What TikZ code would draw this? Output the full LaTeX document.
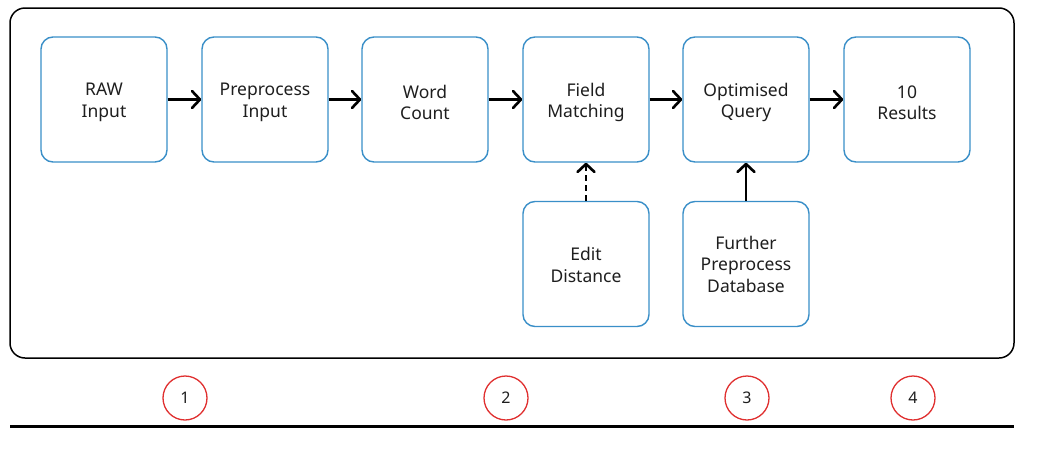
\documentclass[tikz,border=0pt]{standalone}
\usepackage{fontspec}
\setmainfont{Noto Sans}
\usetikzlibrary{arrows.meta}
\definecolor{boxblue}{HTML}{3A8FC8}
\definecolor{numred}{HTML}{E03030}
\definecolor{txt}{HTML}{1E1E1E}
\newcommand{\boxtxt}[2][6pt]{\parbox[c][100pt][c]{124pt}{\centering\vspace*{#1}#2}}
\begin{document}
\begin{tikzpicture}[x=1pt,y=-1pt,
  stepbox/.style={draw=boxblue,line width=1.4pt,rounded corners=12pt,minimum width=126pt,minimum height=125pt,align=center,text=txt,font=\fontsize{17.5}{21.5}\selectfont,inner sep=0pt},
  numc/.style={draw=numred,line width=1.3pt,circle,minimum size=44pt,inner sep=0pt,text=txt,font=\fontsize{16}{18}\selectfont},
  flow/.style={line width=2.4pt,black,-{Straight Barb[length=8pt,width=17pt,line width=0pt 1.1,round]}}]
\useasboundingbox (0,0) rectangle (1053,453);
\fill[white] (0,0) rectangle (1053,453);
\draw[line width=1.5pt,rounded corners=15pt] (10,8) rectangle (1014,358);
\node[stepbox] (raw) at (104,99.5) {\boxtxt{RAW\\Input}};
\node[stepbox] (pre) at (265,99.5) {\boxtxt{Preprocess\\Input}};
\node[stepbox] (wc) at (425,99.5) {\boxtxt{Word\\Count}};
\node[stepbox] (fm) at (586,99.5) {\boxtxt{Field\\Matching}};
\node[stepbox] (oq) at (746,99.5) {\boxtxt{Optimised\\Query}};
\node[stepbox] (res) at (907,99.5) {\boxtxt{10\\Results}};
\node[stepbox] (ed) at (586,264) {\boxtxt[2pt]{Edit\\Distance}};
\node[stepbox] (fp) at (746,264) {\boxtxt[0pt]{Further\\Preprocess\\Database}};
\draw[flow] (raw) -- (pre);
\draw[flow] (pre) -- (wc);
\draw[flow] (wc) -- (fm);
\draw[flow] (fm) -- (oq);
\draw[flow] (oq) -- (res);
\draw[flow,dash pattern=on 6pt off 4pt] (ed) -- (fm);
\draw[flow] (fp) -- (oq);
\node[numc] (n1) at (185,398) {1};
\node[numc] (n2) at (506,398) {2};
\node[numc] (n3) at (747,398) {3};
\node[numc] (n4) at (913,398) {4};
\coordinate (la) at (10,426);
\coordinate (lb) at (1014,426);
\draw[line width=3pt] (la) -- (lb);
\end{tikzpicture}
\end{document}
